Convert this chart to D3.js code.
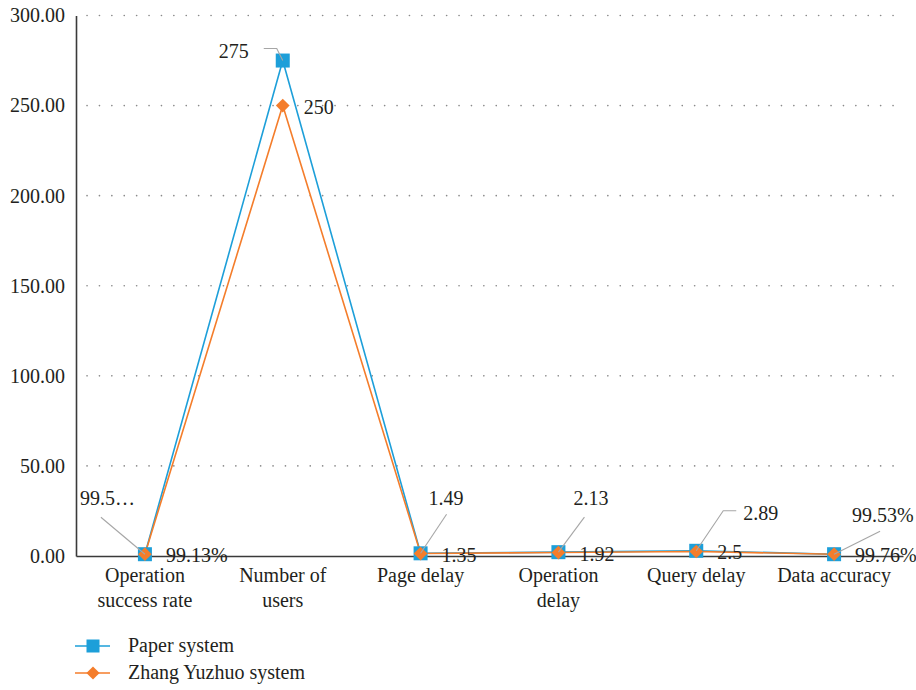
<!DOCTYPE html>
<html>
<head>
<meta charset="utf-8">
<script src="https://cdn.jsdelivr.net/npm/d3@7/dist/d3.min.js"></script>
<style>
  html, body { margin: 0; padding: 0; background: #fff; }
  svg { display: block; font-family: "Liberation Serif", "DejaVu Serif", serif; }
</style>
</head>
<body>
<svg id="chart" width="916" height="690"></svg>
<script>
// Categories compared between the two systems
const categories = [
  "Operation success rate",
  "Number of users",
  "Page delay",
  "Operation delay",
  "Query delay",
  "Data accuracy"
];
// Rates are stored as fractions, counts and delays as plain numbers
const paperValues = [0.9952, 275, 1.49, 2.13, 2.89, 0.9953];
const zhangValues = [0.9913, 250, 1.35, 1.92, 2.5, 0.9976];
const seriesNames = ["Paper system", "Zhang Yuzhuo system"];
const yTicks = [0, 50, 100, 150, 200, 250, 300];
// Categories whose values are percentages
const percentCategories = ["Operation success rate", "Data accuracy"];

// Placement of the callout labels for the first series (pixel offsets from the point)
const paperLabelLayout = [
  { dx: -65, dy: -49, leader: [[-44, -37]], maxWidth: 58 },
  { dx: -64, dy: -3, leader: [[-19, -12], [-6, -12]] },
  { dx: 8, dy: -48, leader: [[26, -39]] },
  { dx: 15, dy: -47, leader: [[26, -35]] },
  { dx: 47, dy: -31, leader: [[40, -40], [27, -40]] },
  { dx: 18, dy: -32, leader: [[46, -23]] }
];

const blue = "#1d9fd9";
const orange = "#f47d2b";
const textColor = "#231f20";
const serif = "Liberation Serif, DejaVu Serif, serif";

const svg = d3.select("#chart");
const margin = { left: 76, right: 13, top: 15.5, bottom: 134 };
const W = 916, H = 690;

const x = d3.scaleBand().domain(categories).range([margin.left, W - margin.right]);
const y = d3.scaleLinear().domain([0, 300]).range([H - margin.bottom, margin.top]);
const cx = c => x(c) + x.bandwidth() / 2;

const fmt = (v, i) => percentCategories.includes(categories[i])
  ? d3.format(".2f")(v * 100) + "%"
  : String(v);

// Dotted horizontal gridlines
svg.append("g")
  .selectAll("line")
  .data(yTicks.filter(t => t > 0))
  .join("line")
  .attr("x1", margin.left + 11)
  .attr("x2", W - margin.right)
  .attr("y1", d => y(d))
  .attr("y2", d => y(d))
  .attr("stroke", "#8a8a8a")
  .attr("stroke-width", 1.6)
  .attr("stroke-linecap", "round")
  .attr("stroke-dasharray", "0.1,12.3");

// Y axis
const yAxis = svg.append("g")
  .attr("transform", `translate(${margin.left},0)`)
  .call(d3.axisLeft(y).tickValues(yTicks).tickFormat(d3.format(".2f")).tickSize(0).tickSizeOuter(0).tickPadding(11))
  .attr("font-family", serif)
  .attr("font-size", 20);
yAxis.select(".domain").attr("stroke", "#3a3a3a").attr("stroke-width", 1.6);
yAxis.selectAll("text").attr("fill", textColor);

// X axis
const xAxis = svg.append("g")
  .attr("transform", `translate(0,${y(0)})`)
  .call(d3.axisBottom(x).tickSize(0).tickSizeOuter(0).tickPadding(0))
  .attr("font-family", serif)
  .attr("font-size", 20);
xAxis.select(".domain").attr("stroke", "#3a3a3a").attr("stroke-width", 1.6);
xAxis.selectAll("text").remove();

// Wrapped category labels
function wrapLines(text, maxW, size) {
  const probe = svg.append("text").attr("font-size", size).attr("font-family", serif);
  const words = text.split(" ");
  const lines = [];
  let cur = "";
  words.forEach(w => {
    const test = cur ? cur + " " + w : w;
    probe.text(test);
    if (probe.node().getComputedTextLength() > maxW && cur) {
      lines.push(cur);
      cur = w;
    } else {
      cur = test;
    }
  });
  if (cur) lines.push(cur);
  probe.remove();
  return lines;
}

xAxis.selectAll(".tick").each(function(d) {
  const lines = wrapLines(d, 120, 20);
  const t = d3.select(this).append("text")
    .attr("text-anchor", "middle")
    .attr("font-size", 20)
    .attr("fill", textColor);
  lines.forEach((ln, k) => {
    t.append("tspan").attr("x", 0).attr("y", 26 + k * 25).text(ln);
  });
});

// Series lines
const line = d3.line().x((d, i) => cx(categories[i])).y(d => y(d));
svg.append("path").datum(paperValues)
  .attr("d", line).attr("fill", "none").attr("stroke", blue).attr("stroke-width", 1.6);
svg.append("path").datum(zhangValues)
  .attr("d", line).attr("fill", "none").attr("stroke", orange).attr("stroke-width", 1.6);

// Markers
const sq = 14;
svg.append("g").selectAll("rect")
  .data(paperValues)
  .join("rect")
  .attr("x", (d, i) => cx(categories[i]) - sq / 2)
  .attr("y", d => y(d) - sq / 2)
  .attr("width", sq).attr("height", sq)
  .attr("fill", blue);

const diamond = d3.symbol().type(d3.symbolDiamond2).size(120);
svg.append("g").selectAll("path")
  .data(zhangValues)
  .join("path")
  .attr("d", diamond)
  .attr("transform", (d, i) => `translate(${cx(categories[i])},${y(d)})`)
  .attr("fill", orange);

// Labels for the second series, to the right of each point
svg.append("g").selectAll("text")
  .data(zhangValues)
  .join("text")
  .attr("x", (d, i) => cx(categories[i]) + 21)
  .attr("y", d => y(d) + 8)
  .attr("font-size", 20)
  .attr("fill", textColor)
  .text((d, i) => fmt(d, i));

// Callout labels with leader lines for the first series
const callouts = svg.append("g");
paperValues.forEach((v, i) => {
  const px = cx(categories[i]);
  const py = y(v);
  const lay = paperLabelLayout[i];
  const pts = lay.leader.map(([dx, dy]) => [px + dx, py + dy]).concat([[px, py]]);
  callouts.append("path")
    .attr("d", d3.line()(pts))
    .attr("fill", "none")
    .attr("stroke", "#a6a6a6")
    .attr("stroke-width", 1.1);
  const t = callouts.append("text")
    .attr("x", px + lay.dx)
    .attr("y", py + lay.dy)
    .attr("font-size", 20)
    .attr("fill", textColor)
    .text(fmt(v, i));
  // Clip an over-long label to its box and finish it with an ellipsis
  if (lay.maxWidth && t.node().getComputedTextLength() > lay.maxWidth) {
    const full = fmt(v, i);
    let n = full.length;
    while (n > 1) {
      n--;
      t.text(full.slice(0, n) + "…");
      if (t.node().getComputedTextLength() <= lay.maxWidth) break;
    }
  }
});

// Legend
const legend = svg.append("g");
seriesNames.forEach((name, k) => {
  const ly = 646 + k * 27;
  const g = legend.append("g");
  g.append("line")
    .attr("x1", 75).attr("x2", 110).attr("y1", ly).attr("y2", ly)
    .attr("stroke", k === 0 ? blue : orange).attr("stroke-width", 1.6);
  if (k === 0) {
    g.append("rect").attr("x", 93 - 6.5).attr("y", ly - 6.5)
      .attr("width", 13).attr("height", 13).attr("fill", blue);
  } else {
    g.append("path").attr("d", d3.symbol().type(d3.symbolDiamond2).size(110))
      .attr("transform", `translate(93,${ly})`).attr("fill", orange);
  }
  g.append("text")
    .attr("x", 128).attr("y", ly + 6)
    .attr("font-size", 20)
    .attr("fill", textColor)
    .text(name);
});
</script>
</body>
</html>
